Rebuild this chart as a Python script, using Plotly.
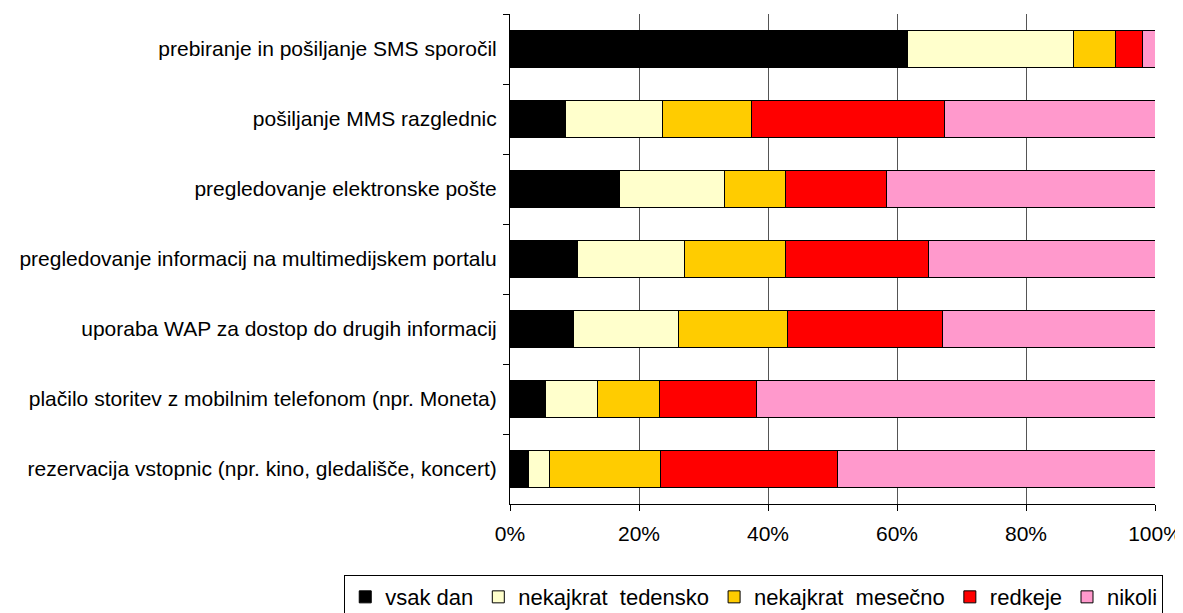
import plotly.graph_objects as go

# categories, top to bottom
activities = [
    "prebiranje in pošiljanje SMS sporočil",
    "pošiljanje MMS razglednic",
    "pregledovanje elektronske pošte",
    "pregledovanje informacij na multimedijskem portalu",
    "uporaba WAP za dostop do drugih informacij",
    "plačilo storitev z mobilnim telefonom (npr. Moneta)",
    "rezervacija vstopnic (npr. kino, gledališče, koncert)",
]

# shares in %
vsak_dan = [61.6, 8.6, 17.0, 10.5, 9.9, 5.5, 2.8]
tedensko = [25.8, 15.1, 16.2, 16.6, 16.2, 8.0, 3.3]
mesecno = [6.4, 13.8, 9.5, 15.6, 16.9, 9.6, 17.3]
redkeje = [4.3, 29.9, 15.7, 22.2, 24.0, 15.1, 27.4]
nikoli = [1.9, 32.6, 41.6, 35.1, 33.0, 61.8, 49.2]

series = [
    ("vsak dan", vsak_dan, "#000000"),
    ("nekajkrat  tedensko", tedensko, "#FFFFCC"),
    ("nekajkrat  mesečno", mesecno, "#FFCC00"),
    ("redkeje", redkeje, "#FF0000"),
    ("nikoli", nikoli, "#FF99CC"),
]

fig = go.Figure()
for name, vals, col in series:
    fig.add_trace(go.Bar(
        y=activities, x=[v / 100 for v in vals], name=name, orientation="h",
        marker=dict(color=col, line=dict(color="#000000", width=1)),
    ))

# page body has an 8px margin, so the figure is a bit smaller than the window
fig.update_layout(
    barmode="stack",
    bargap=0.47,
    width=1175, height=605,
    margin=dict(l=502, r=28, t=6, b=109, autoexpand=False),
    plot_bgcolor="white",
    paper_bgcolor="white",
    font=dict(family="Liberation Sans, Arial, sans-serif", size=21, color="#000000"),
    legend=dict(
        orientation="h", x=-0.257, xanchor="left", y=-0.145, yanchor="top",
        bordercolor="#000000", borderwidth=1, font=dict(size=22),
        traceorder="normal",
    ),
)
fig.update_xaxes(
    range=[0, 1], tickformat=".0%", dtick=0.2,
    showgrid=True, gridcolor="#555555", gridwidth=1,
    showline=True, linecolor="#000000", linewidth=1,
    ticks="outside", ticklen=6, tickcolor="#000000", ticklabelstandoff=5,
    zeroline=False,
)
fig.update_yaxes(
    autorange="reversed",
    showline=True, linecolor="#000000", linewidth=1,
    ticks="outside", ticklen=6, tickcolor="#000000", tickson="boundaries",
    showgrid=False, ticklabelstandoff=8,
)
fig.write_html("out.html")
